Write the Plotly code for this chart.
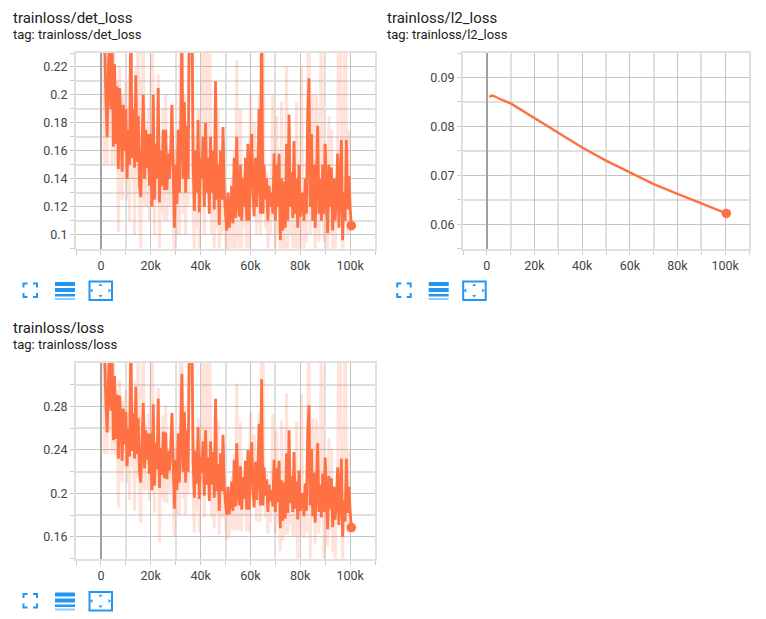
import plotly.graph_objects as go

W, H = 766, 619
ORANGE = "#ff7043"
PALE = "rgba(255,112,67,0.2)"
BLUE = "#2196f3"

START = 1000
STEP = 500

DET_SMOOTH = [
    .25,.24,.196,.17,.215,.25,.19,.24,.163,.222,
    .165,.206,.147,.205,.185,.145,.193,.16,.19,.14,
    .175,.15,.26,.155,.19,.148,.214,.152,.185,.135,
    .127,.17,.2,.14,.175,.148,.172,.135,.172,.12,
    .2,.125,.165,.14,.205,.123,.16,.135,.175,.132,
    .175,.132,.158,.14,.16,.193,.135,.105,.15,.122,
    .175,.13,.173,.24,.14,.195,.13,.178,.14,.26,
    .26,.27,.15,.117,.16,.13,.182,.116,.155,.14,
    .17,.12,.18,.13,.155,.115,.17,.13,.16,.118,
    .21,.125,.15,.107,.16,.125,.177,.13,.115,.103,
    .13,.105,.115,.135,.108,.155,.112,.17,.125,.113,
    .15,.11,.14,.12,.155,.11,.165,.11,.15,.172,
    .13,.113,.155,.12,.145,.19,.115,.26,.115,.15,
    .125,.14,.11,.135,.12,.13,.115,.158,.11,.15,
    .12,.158,.096,.14,.103,.138,.105,.165,.11,.186,
    .12,.145,.112,.167,.115,.14,.105,.15,.113,.125,
    .13,.11,.14,.115,.186,.212,.12,.172,.11,.15,
    .105,.14,.178,.115,.14,.11,.15,.115,.165,.13,
    .101,.15,.12,.148,.103,.14,.11,.128,.158,.105,
    .138,.168,.096,.13,.11,.168,.118,.142,.12,.1065,
]
DET_RAW = [
    .28,.15,.24,.15,.27,.17,.26,.15,.24,.16,
    .15,.21,.102,.22,.17,.125,.20,.14,.21,.125,
    .19,.11,.30,.14,.20,.10,.22,.13,.30,.115,
    .09,.20,.28,.12,.18,.12,.19,.11,.20,.28,
    .17,.10,.16,.125,.215,.09,.15,.115,.19,.11,
    .20,.11,.16,.12,.15,.19,.115,.085,.16,.10,
    .16,.10,.30,.24,.115,.20,.10,.18,.12,.30,
    .27,.30,.12,.085,.17,.105,.19,.085,.16,.12,
    .30,.10,.19,.30,.14,.30,.17,.10,.15,.09,
    .20,.105,.19,.085,.15,.10,.17,.11,.10,.08,
    .13,.085,.10,.14,.09,.16,.09,.225,.11,.09,
    .19,.09,.14,.105,.15,.09,.16,.09,.20,.17,
    .12,.18,.145,.10,.15,.20,.10,.30,.30,.14,
    .105,.145,.09,.14,.10,.13,.20,.15,.09,.185,
    .10,.15,.075,.195,.085,.14,.09,.22,.09,.18,
    .10,.14,.09,.16,.09,.195,.085,.15,.09,.22,
    .12,.09,.14,.095,.18,.30,.10,.17,.20,.14,
    .085,.20,.17,.095,.14,.30,.15,.095,.16,.11,
    .085,.185,.10,.175,.08,.14,.09,.12,.15,.30,
    .30,.165,.075,.13,.30,.165,.10,.175,.11,.1065,
]
LOSS_SMOOTH = [
    .336,.326,.282,.256,.30,.336,.276,.326,.249,.308,
    .25,.291,.232,.29,.27,.23,.278,.245,.275,.225,
    .259,.234,.344,.239,.274,.232,.298,.236,.269,.219,
    .21,.253,.283,.223,.258,.231,.255,.218,.255,.203,
    .282,.207,.247,.222,.287,.205,.242,.217,.257,.214,
    .256,.213,.239,.221,.241,.274,.216,.186,.231,.203,
    .255,.21,.253,.31,.22,.275,.21,.258,.22,.34,
    .339,.349,.229,.196,.239,.209,.261,.195,.234,.219,
    .248,.198,.258,.208,.233,.193,.248,.208,.238,.196,
    .287,.202,.227,.184,.237,.202,.254,.207,.192,.18,
    .206,.181,.191,.211,.184,.231,.188,.246,.201,.189,
    .225,.185,.215,.195,.23,.185,.24,.185,.225,.247,
    .204,.187,.229,.194,.219,.264,.189,.305,.189,.224,
    .198,.213,.183,.208,.193,.203,.188,.231,.183,.223,
    .192,.23,.168,.212,.175,.21,.177,.237,.182,.258,
    .191,.216,.183,.238,.186,.211,.176,.221,.184,.196,
    .2,.179,.209,.184,.255,.281,.189,.241,.179,.219,
    .173,.208,.246,.183,.208,.178,.218,.183,.233,.198,
    .167,.216,.186,.214,.169,.206,.176,.194,.224,.171,
    .202,.232,.16,.194,.174,.232,.182,.206,.184,.1686,
]
LOSS_RAW = [
    .366,.236,.326,.236,.356,.256,.346,.236,.326,.246,
    .235,.295,.187,.305,.255,.21,.285,.225,.295,.21,
    .274,.194,.384,.224,.284,.184,.304,.214,.384,.199,
    .173,.283,.363,.203,.263,.203,.273,.193,.283,.363,
    .252,.182,.242,.207,.297,.155,.232,.197,.272,.192,
    .281,.191,.241,.201,.231,.271,.196,.161,.241,.181,
    .24,.18,.38,.32,.195,.28,.18,.26,.20,.38,
    .349,.379,.199,.164,.249,.184,.269,.164,.239,.199,
    .378,.178,.268,.378,.218,.378,.248,.178,.228,.168,
    .277,.182,.267,.162,.227,.177,.247,.187,.177,.157,
    .206,.161,.176,.216,.166,.236,.166,.301,.186,.166,
    .265,.165,.215,.18,.225,.165,.235,.165,.275,.245,
    .194,.254,.219,.174,.224,.274,.174,.374,.374,.214,
    .178,.218,.163,.213,.173,.203,.273,.223,.163,.258,
    .172,.222,.147,.267,.157,.212,.162,.292,.162,.252,
    .171,.211,.161,.231,.161,.266,.136,.221,.161,.291,
    .189,.159,.209,.164,.249,.369,.135,.239,.269,.209,
    .153,.268,.238,.163,.208,.368,.218,.138,.228,.178,
    .151,.251,.166,.241,.146,.206,.136,.186,.216,.366,
    .364,.229,.139,.194,.364,.229,.164,.239,.174,.1686,
]
L2_STEPS = [1000, 2000, 3000, 5000, 10000, 15000, 20000, 25000, 30000, 40000,
            50000, 60000, 70000, 80000, 90000, 100500]
L2_VALUES = [.0860, .0863, .0862, .0857, .0847, .0832, .0816, .0801, .0786, .0757,
             .0730, .0706, .0682, .0662, .0643, .0622]

TITLES = ["trainloss/det_loss", "trainloss/l2_loss", "trainloss/loss"]
SUBTITLES = ["tag: trainloss/det_loss", "tag: trainloss/l2_loss", "tag: trainloss/loss"]

STEPS = [START + STEP * i for i in range(len(DET_SMOOTH))]


def px(x):
    return x / W


def py(y):
    return 1 - y / H


fig = go.Figure()


def add_series(n, xs_raw, raw, xs, smooth, width):
    ax = dict(xaxis=f"x{n}", yaxis=f"y{n}", showlegend=False, hoverinfo="skip")
    if raw is not None:
        fig.add_trace(go.Scatter(x=xs_raw, y=raw, mode="lines",
                                 line=dict(color=PALE, width=3), **ax))
    fig.add_trace(go.Scatter(x=xs, y=smooth, mode="lines",
                             line=dict(color=ORANGE, width=width), **ax))
    fig.add_trace(go.Scatter(x=xs[-1:], y=smooth[-1:], mode="markers",
                             marker=dict(color=ORANGE, size=9.5), **ax))


add_series(1, STEPS, DET_RAW, STEPS, DET_SMOOTH, 2.8)
add_series(2, None, None, L2_STEPS, L2_VALUES, 2.4)
add_series(3, STEPS, LOSS_RAW, STEPS, LOSS_SMOOTH, 2.8)

MAJOR = "#c4c4c4"
MINOR = "#e0e0e0"
TICK = "#cccccc"
FONT = dict(family="Roboto", size=12.5, color="#444444")


def xaxis(l, r, anchor):
    return dict(domain=[px(l), px(r)], range=[-10000, 110000], anchor=anchor,
                tick0=0, dtick=20000, showgrid=True, gridcolor=MAJOR, gridwidth=1,
                zeroline=True, zerolinecolor="#a0a0a0", zerolinewidth=2,
                showline=True, mirror=True, linecolor=MINOR, linewidth=2,
                ticks="outside", ticklen=4, tickcolor=TICK, tickfont=FONT,
                minor=dict(dtick=10000, tick0=0, showgrid=True, gridcolor=MINOR, gridwidth=2,
                           ticks="outside", ticklen=4, tickcolor=TICK))


def yaxis(t, b, rng, major, minor, anchor):
    return dict(domain=[py(b), py(t)], range=rng, anchor=anchor,
                tick0=0, dtick=major, showgrid=True, gridcolor=MAJOR, gridwidth=1,
                zeroline=False, showline=True, mirror=True, linecolor=MINOR, linewidth=2,
                ticks="outside", ticklen=4, tickcolor=TICK, tickfont=FONT,
                minor=dict(dtick=minor, tick0=0, showgrid=True, gridcolor=MINOR, gridwidth=2,
                           ticks="outside", ticklen=4, tickcolor=TICK))


annotations = []
for (title, sub, x0, y0) in [(TITLES[0], SUBTITLES[0], 10.5, 18),
                             (TITLES[1], SUBTITLES[1], 385, 18),
                             (TITLES[2], SUBTITLES[2], 10.5, 328)]:
    annotations.append(dict(text=title, x=px(x0), y=py(y0), xref="paper", yref="paper",
                            xanchor="left", yanchor="middle", showarrow=False,
                            font=dict(family="Roboto", size=15, color="#212121")))
    annotations.append(dict(text=sub, x=px(x0), y=py(y0 + 16.5), xref="paper", yref="paper",
                            xanchor="left", yanchor="middle", showarrow=False,
                            font=dict(family="Roboto", size=13, color="#212121")))


def path(points, close=False):
    s = "M" + " L".join(f"{px(x):.5f},{py(y):.5f}" for x, y in points)
    return s + (" Z" if close else "")


shapes = []


def rect(x0, y0, x1, y1, color=BLUE):
    shapes.append(dict(type="rect", xref="paper", yref="paper", x0=px(x0), x1=px(x1),
                       y0=py(y0), y1=py(y1), fillcolor=color, line=dict(width=0), layer="above"))


def stroke(points):
    shapes.append(dict(type="path", xref="paper", yref="paper", path=path(points),
                       line=dict(color=BLUE, width=2), layer="above"))


def tri(points):
    shapes.append(dict(type="path", xref="paper", yref="paper", path=path(points, True),
                       fillcolor=BLUE, line=dict(width=0), layer="above"))


def icons(dx, dy):
    l, r, t, b = 23.5 + dx, 37 + dx, 283.5 + dy, 297 + dy
    stroke([(l, t + 4), (l, t), (l + 4, t)])
    stroke([(r - 4, t), (r, t), (r, t + 4)])
    stroke([(l, b - 4), (l, b), (l + 4, b)])
    stroke([(r - 4, b), (r, b), (r, b - 4)])
    rect(55 + dx, 282 + dy, 75 + dx, 286 + dy)
    rect(55 + dx, 288 + dy, 75 + dx, 292 + dy)
    rect(55 + dx, 294 + dy, 75 + dx, 296.5 + dy)
    rect(55 + dx, 298 + dy, 75 + dx, 300 + dy, "#90caf9")
    shapes.append(dict(type="rect", xref="paper", yref="paper",
                       x0=px(89.5 + dx), x1=px(112 + dx), y0=py(281.5 + dy), y1=py(300 + dy),
                       line=dict(color=BLUE, width=2), layer="above"))
    cx, cy = 100.5 + dx, 290.5 + dy
    tri([(cx - 2, cy - 4.5), (cx + 2, cy - 4.5), (cx, cy - 7)])
    tri([(cx - 2, cy + 4.5), (cx + 2, cy + 4.5), (cx, cy + 7)])
    tri([(cx - 8, cy - 2), (cx - 8, cy + 2), (cx - 10.5, cy)])
    tri([(cx + 8, cy - 2), (cx + 8, cy + 2), (cx + 10.5, cy)])


icons(0, 0)
icons(373.7, 0)
icons(0, 310.5)

fig.update_layout(
    width=W, height=H, margin=dict(l=0, r=0, t=0, b=0, pad=0),
    paper_bgcolor="white", plot_bgcolor="white", showlegend=False,
    font=dict(family="Roboto"),
    xaxis=xaxis(76, 375, "y"),
    yaxis=yaxis(53, 248.7, [0.09, 0.23], 0.02, 0.01, "x"),
    xaxis2=xaxis(463, 749, "y2"),
    yaxis2=yaxis(53, 248.7, [0.055, 0.095], 0.01, 0.005, "x2"),
    xaxis3=xaxis(76, 375, "y3"),
    yaxis3=yaxis(363, 558.7, [0.14, 0.3199], 0.04, 0.02, "x3"),
    annotations=annotations, shapes=shapes,
)

fig.write_html("out.html", config=dict(displayModeBar=False),
               post_script="document.body.style.margin='0';document.body.style.overflow='hidden';")
